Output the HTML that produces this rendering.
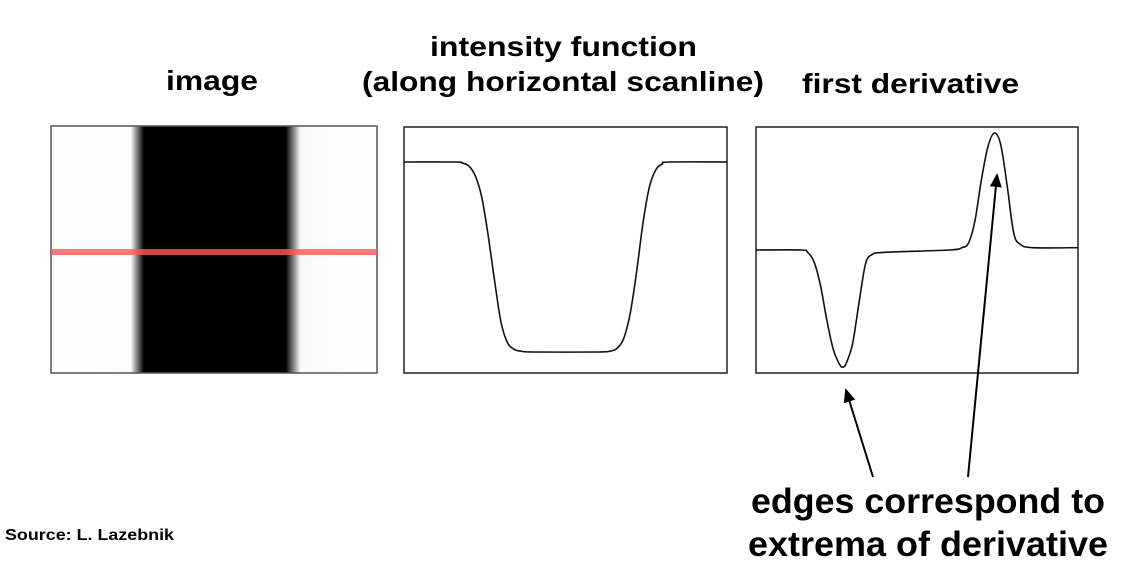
<!DOCTYPE html>
<html><head><meta charset="utf-8"><style>
body{margin:0;background:#fff;width:1142px;height:569px;overflow:hidden;font-family:"Liberation Sans",sans-serif}
svg{display:block}
text{font-family:"Liberation Sans",sans-serif;font-weight:bold;fill:#000}
</style></head><body>
<svg width="1142" height="569">
<defs>
<linearGradient id="band" x1="0" x2="1" y1="0" y2="0">
<stop offset="0" stop-color="#fff"/><stop offset="0.245" stop-color="#fcfcfc"/>
<stop offset="0.26" stop-color="#999"/><stop offset="0.285" stop-color="#000"/>
<stop offset="0.72" stop-color="#000"/><stop offset="0.745" stop-color="#888"/>
<stop offset="0.765" stop-color="#fafafa"/><stop offset="1" stop-color="#fff"/>
</linearGradient>
<marker id="ah" markerWidth="8" markerHeight="8" refX="6" refY="4" orient="auto"><path d="M0,1 L7,4 L0,7 z" fill="#000"/></marker>
</defs>
<text x="166" y="90" font-size="28" textLength="92" lengthAdjust="spacingAndGlyphs">image</text>
<text x="430" y="56" font-size="28" textLength="267" lengthAdjust="spacingAndGlyphs">intensity function</text>
<text x="362" y="91" font-size="28" textLength="402" lengthAdjust="spacingAndGlyphs">(along horizontal scanline)</text>
<text x="802" y="93" font-size="28" textLength="217" lengthAdjust="spacingAndGlyphs">first derivative</text>

<g>
<rect x="51" y="126" width="326" height="247" fill="url(#band)" stroke="#555" stroke-width="1.5"/>
<rect x="51" y="249" width="326" height="6" fill="#f55" opacity="0.8"/>
</g>
<rect x="404" y="127" width="323" height="246" fill="#fff" stroke="#222" stroke-width="1.5"/>
<rect x="756" y="127" width="322" height="246" fill="#fff" stroke="#222" stroke-width="1.5"/>
<g id="curves"></g>

<line x1="873" y1="477" x2="846" y2="390" stroke="#000" stroke-width="2" marker-end="url(#ah)"/>
<line x1="968" y1="477" x2="997" y2="175" stroke="#000" stroke-width="2" marker-end="url(#ah)"/>
<text x="751" y="513" font-size="35" textLength="354" lengthAdjust="spacingAndGlyphs">edges correspond to</text>
<text x="748" y="556" font-size="35" textLength="360" lengthAdjust="spacingAndGlyphs">extrema of derivative</text>
<text x="5" y="540" font-size="16" textLength="169" lengthAdjust="spacingAndGlyphs">Source: L. Lazebnik</text>
</svg>
<script>
const intensityPos = [0,0.16,0.18,0.20,0.22,0.24,0.26,0.28,0.30,0.32,0.34,0.36,0.40,0.60,0.64,0.66,0.68,0.70,0.72,0.74,0.76,0.78,0.80,0.82,1];
const intensityVal = [1,1,0.995,0.98,0.93,0.82,0.62,0.38,0.16,0.05,0.015,0.005,0,0,0.005,0.02,0.07,0.2,0.42,0.68,0.87,0.96,0.99,1,1];
const derivPos = [0,0.14,0.16,0.18,0.20,0.22,0.24,0.26,0.27,0.28,0.30,0.32,0.34,0.36,0.40,0.60,0.64,0.66,0.68,0.70,0.72,0.74,0.76,0.78,0.80,0.82,0.86,1];
const derivVal = [0,0,-0.02,-0.1,-0.3,-0.6,-0.85,-0.98,-1,-0.97,-0.8,-0.45,-0.12,-0.04,-0.02,0.0,0.02,0.06,0.25,0.6,0.88,1,0.9,0.55,0.15,0.05,0.02,0.02];
const ns="http://www.w3.org/2000/svg";
const g=document.getElementById('curves');
function xI(p){return 404+p*323;} function yI(v){return 352-v*190;}
function xD(p){return 756+p*322;} function yD(v){return 250-v*117;}
function draw(pos,val,fx,fy,name){
  const pts=pos.map((p,i)=>[fx(p),fy(val[i])]);
  let d='M'+pts[0][0]+','+pts[0][1];
  for(let i=0;i<pts.length-1;i++){
    const p0=pts[Math.max(0,i-1)],p1=pts[i],p2=pts[i+1],p3=pts[Math.min(pts.length-1,i+2)];
    d+=' C'+(p1[0]+(p2[0]-p0[0])/6)+','+(p1[1]+(p2[1]-p0[1])/6)+' '+(p2[0]-(p3[0]-p1[0])/6)+','+(p2[1]-(p3[1]-p1[1])/6)+' '+p2[0]+','+p2[1];
  }
  const path=document.createElementNS(ns,'path');
  path.setAttribute('d',d);path.setAttribute('fill','none');path.setAttribute('stroke','#111');path.setAttribute('stroke-width','1.6');
  
  
  g.appendChild(path);
}
draw(intensityPos,intensityVal,xI,yI,'intensity-curve');
draw(derivPos,derivVal,xD,yD,'derivative-curve');
</script>
</body></html>
